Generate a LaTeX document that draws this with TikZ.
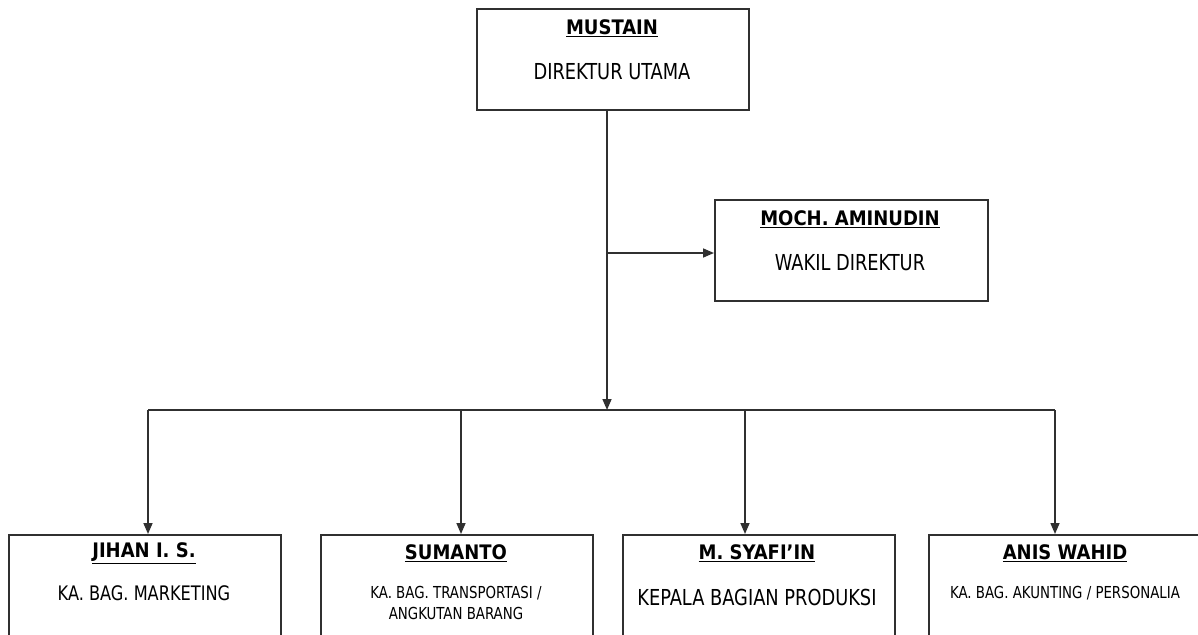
\documentclass[tikz,border=0pt]{standalone}
\usepackage{fontspec}
\setmainfont{DejaVu Sans Condensed}
\newfontfamily\condfont{DejaVu Sans Condensed}[FakeStretch=0.9]
\usetikzlibrary{arrows.meta}
\definecolor{linec}{HTML}{303030}
\begin{document}
\begin{tikzpicture}[x=1pt,y=-1pt,
  box/.style={draw=linec,line width=1.6pt,minimum width=#1,inner sep=0pt,anchor=north west},
  nm/.style={font=\fontsize{20}{22}\selectfont\bfseries,inner sep=0pt},
  role/.style={font=\condfont\fontsize{22}{24}\selectfont,inner sep=0pt},
  rolenar/.style={font=\condfont\fontsize{20}{24}\selectfont,inner sep=0pt},
  small/.style={font=\condfont\fontsize{16.5}{21}\selectfont,inner sep=0pt,align=center},
  conn/.style={draw=linec,line width=1.6pt},
  arr/.style={conn,-{Triangle[length=11pt,width=9pt]}}]
\useasboundingbox (0,0) rectangle (1198,634);
\clip (0,0) rectangle (1198,634);
% boxes
\node[box=272pt,minimum height=101pt] (dir) at (476,8) {};
\node[box=273pt,minimum height=101pt] (wakil) at (714,199) {};
\node[box=272pt,minimum height=150pt] (b1) at (8,534) {};
\node[box=272pt,minimum height=150pt] (b2) at (320,534) {};
\node[box=272pt,minimum height=150pt] (b3) at (622,534) {};
\node[box=272pt,minimum height=150pt] (b4) at (928,534) {};
% texts
\node[nm] (t1) at (612,28) {\underline{MUSTAIN}};
\node[role] (r1) at (612,72) {DIREKTUR UTAMA};
\node[nm] (t2) at (850,219) {\underline{MOCH. AMINUDIN}};
\node[role] (r2) at (850,263) {WAKIL DIREKTUR};
\node[nm] (t3) at (144,553) {\underline{JIHAN I. S.}};
\node[rolenar] (r3) at (144,593) {KA. BAG. MARKETING};
\node[nm] (t4) at (456,553) {\underline{SUMANTO}};
\node[small] (r4) at (456,603) {KA. BAG. TRANSPORTASI /\\ANGKUTAN BARANG};
\node[nm] (t5) at (757,553) {\underline{M. SYAFI’IN}};
\node[role] (r5) at (757,597) {KEPALA BAGIAN PRODUKSI};
\node[nm] (t6) at (1065,553) {\underline{ANIS WAHID}};
\node[small] (r6) at (1065,593) {KA. BAG. AKUNTING / PERSONALIA};
% connectors
\coordinate (top) at (607,109);
\coordinate (bus) at (607,410);
\coordinate (br) at (607,253);
\coordinate (busL) at (148,410);
\coordinate (busR) at (1055,410);
\coordinate (d2) at (461,410);
\coordinate (d3) at (745,410);
\draw[arr] (top) -- (bus);
\draw[arr] (br) -- (wakil.west |- br);
\draw[conn] (busL) -- (busR);
\draw[arr] (busL) -- (busL |- b1.north);
\draw[arr] (d2) -- (d2 |- b2.north);
\draw[arr] (d3) -- (d3 |- b3.north);
\draw[arr] (busR) -- (busR |- b4.north);
\end{tikzpicture}
\end{document}
